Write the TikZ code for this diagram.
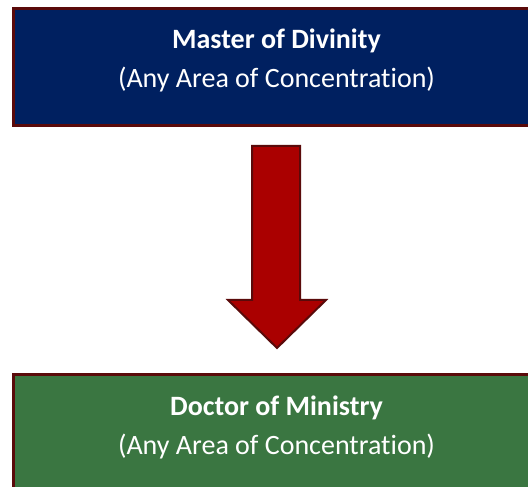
\documentclass[tikz,border=0pt]{standalone}
\usepackage{fontspec}
\setmainfont{Carlito}[Ligatures=CommonOff]
\definecolor{navy}{HTML}{002060}
\definecolor{darkgreen}{HTML}{3A7641}
\definecolor{borderred}{HTML}{5A0A0A}
\definecolor{arrowred}{HTML}{AA0000}
\tikzset{
  degbox/.style={draw=borderred, line width=3pt, minimum width=527pt, minimum height=117pt, inner sep=0pt},
  boxtext/.style={text=white, inner sep=0pt, anchor=base, font=\fontsize{28}{34}\selectfont},
  bigarrow/.style={draw=borderred, line width=2pt, fill=arrowred, line join=miter}
}
\begin{document}
\begin{tikzpicture}[x=1pt,y=1pt]
\useasboundingbox (0,0) rectangle (528,487);
\clip (0,0) rectangle (528,487);
\node[degbox, fill=navy] (mdiv) at (276.5,487-67.5) {};
\node[boxtext] (mdivt) at ([yshift=-41pt]mdiv.north) {\textbf{Master of Divinity}};
\node[boxtext] (mdivs) at ([yshift=-80.5pt]mdiv.north) {(Any Area of Concentration)};
\node[degbox, fill=darkgreen] (dmin) at (276.5,487-433.5) {};
\node[boxtext] (dmint) at ([yshift=-42pt]dmin.north) {\textbf{Doctor of Ministry}};
\node[boxtext] (dmins) at ([yshift=-81pt]dmin.north) {(Any Area of Concentration)};
\draw[bigarrow] (252,487-146) -- (300,487-146) -- (300,487-300) -- (326,487-300) -- (277,487-348) -- (228,487-300) -- (252,487-300) -- cycle;
\end{tikzpicture}
\end{document}
